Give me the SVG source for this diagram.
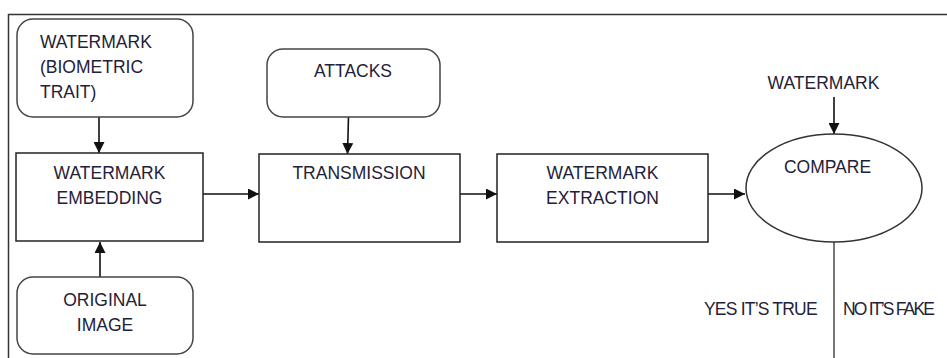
<svg xmlns="http://www.w3.org/2000/svg" width="947" height="358" viewBox="0 0 947 358">
  <style>
    .box { fill: #ffffff; stroke: #222222; stroke-width: 1.5; }
    .rbox { fill: #ffffff; stroke: #444444; stroke-width: 1.5; }
    .edge { fill: none; stroke: #111111; stroke-width: 1.6; }
    .plain { fill: none; stroke: #555555; stroke-width: 1.6; }
    .lbl { font-family: "Liberation Sans", Arial, sans-serif; font-size: 17.5px; fill: #1f2238; }
    .mid { text-anchor: middle; }
    .tight { letter-spacing: -0.8px; }
    .tighter { letter-spacing: -1.8px; }
  </style>
  <defs>
    <marker id="arrow" viewBox="0 0 10 10" refX="10" refY="5" markerWidth="11" markerHeight="11" markerUnits="userSpaceOnUse" orient="auto">
      <path d="M0,0 L10,5 L0,10 z" fill="#111111"/>
    </marker>
  </defs>

  <rect width="947" height="358" fill="#ffffff"/>
  <!-- frame -->
  <path d="M8.5,358 V14.5 H947" fill="none" stroke="#333333" stroke-width="1.5"/>

  <g id="connectors">
    <path class="edge" d="M99,117 V153" marker-end="url(#arrow)"/>
    <path class="edge" d="M100,277 V242" marker-end="url(#arrow)"/>
    <path class="edge" d="M203,194 H259" marker-end="url(#arrow)"/>
    <path class="edge" d="M348.5,117 L347.5,154" marker-end="url(#arrow)"/>
    <path class="edge" d="M460,194 H497" marker-end="url(#arrow)"/>
    <path class="edge" d="M708,194 H745" marker-end="url(#arrow)"/>
    <path class="edge" d="M834,97 V134" marker-end="url(#arrow)"/>
    <path class="plain" d="M834,242 V358"/>
  </g>

  <g id="watermark-input">
    <rect class="rbox" x="17" y="19" width="176" height="98" rx="16"/>
    <text class="lbl" x="40" y="48">WATERMARK</text>
    <text class="lbl" x="40" y="73">(BIOMETRIC</text>
    <text class="lbl" x="40" y="98">TRAIT)</text>
  </g>

  <g id="embedding">
    <rect class="box" x="16" y="153" width="187" height="88"/>
    <text class="lbl mid" x="109.5" y="179">WATERMARK</text>
    <text class="lbl mid" x="109.5" y="204">EMBEDDING</text>
  </g>

  <g id="original-image">
    <rect class="rbox" x="17" y="277" width="176" height="77" rx="16"/>
    <text class="lbl mid" x="105" y="306">ORIGINAL</text>
    <text class="lbl mid" x="105" y="331">IMAGE</text>
  </g>

  <g id="attacks">
    <rect class="rbox" x="267" y="49" width="173" height="68" rx="16"/>
    <text class="lbl mid" x="353" y="77">ATTACKS</text>
  </g>

  <g id="transmission">
    <rect class="box" x="259" y="154" width="201" height="88"/>
    <text class="lbl mid" x="359" y="179">TRANSMISSION</text>
  </g>

  <g id="extraction">
    <rect class="box" x="497" y="154" width="211" height="88"/>
    <text class="lbl mid" x="602.5" y="179">WATERMARK</text>
    <text class="lbl mid" x="602.5" y="204">EXTRACTION</text>
  </g>

  <g id="compare">
    <ellipse cx="834" cy="188" rx="88" ry="54" fill="#ffffff" stroke="#333333" stroke-width="1.5"/>
    <text class="lbl mid" x="827.5" y="173">COMPARE</text>
  </g>

  <g id="watermark-reference">
    <text class="lbl mid" x="823.5" y="89">WATERMARK</text>
  </g>

  <g id="outcomes">
    <text class="lbl tight" x="704" y="315">YES IT’S TRUE</text>
    <text class="lbl tighter" x="843" y="315">NO IT’S FAKE</text>
  </g>
</svg>
